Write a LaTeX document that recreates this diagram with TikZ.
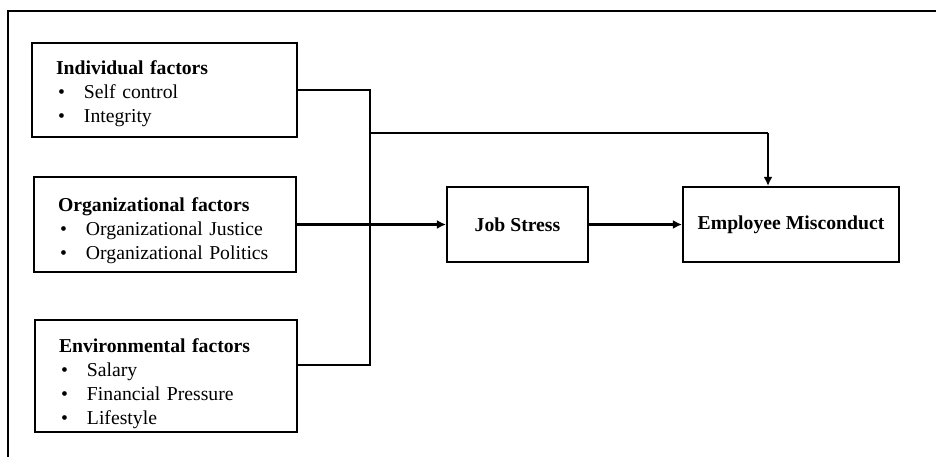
\documentclass[tikz,border=0pt]{standalone}
\usepackage{fontspec}
\setmainfont{Liberation Serif}
\usetikzlibrary{arrows.meta,positioning,calc}
\newcommand{\itm}[1]{\hspace*{2pt}\makebox[26pt][l]{\textbullet}#1}
\newcommand{\lift}[1]{\rule{0pt}{#1}}
\tikzset{
 box/.style={draw=black,line width=2.2pt,align=left,inner xsep=24pt,inner ysep=0pt,font=\fontsize{19.7}{24}\selectfont},
 factor/.style={box,text width=#1},
 goal/.style={box,align=center,inner xsep=0pt,font=\fontsize{19.7}{24}\selectfont\bfseries},
 arr/.style={-{Latex[length=9pt,width=9pt]},line width=2.6pt},
 wire/.style={line width=2.6pt}
}
\begin{document}
\begin{tikzpicture}[x=1pt,y=-1pt]
\useasboundingbox (0,0) rectangle (936,457);
% outer frame, runs off the page at right and bottom
\draw[line width=2.2pt] (8,457) -- (8,11) -- (936,11);
% factor boxes
\node[factor=217pt,minimum width=265pt,minimum height=94pt] (ind) at (164.5,90) {\lift{21pt}\textbf{Individual factors}\\\itm{Self control}\\\itm{Integrity}};
\node[factor=214pt,minimum width=262pt,minimum height=95pt] (org) at (165,224.5) {\lift{26pt}\textbf{Organizational factors}\\\itm{Organizational Justice}\\\itm{Organizational Politics}};
\node[factor=214pt,minimum width=262pt,minimum height=112pt] (env) at (166,376) {\lift{30pt}\textbf{Environmental factors}\\\itm{Salary}\\\itm{Financial Pressure}\\\itm{Lifestyle}};
% outcome boxes
\node[goal,minimum width=141pt,minimum height=75pt] (js) at (517.5,224.5) {Job Stress};
\node[goal,minimum width=216pt,minimum height=75pt] (em) at (791,224.5) {Employee Misconduct};
% bus and connectors
\coordinate (bustop) at (370,90);
\coordinate (busbot) at (370,365);
\coordinate (split) at (370,133);
\coordinate (turn) at (768,133);
\draw[wire] (ind.east) -- (bustop) -- (busbot) -- (busbot -| env.east);
\draw[wire] (split) -- (turn);
\draw[arr] (turn) -- (turn |- em.north);
\draw[arr] (org.east) -- (js.west);
\draw[arr] (js.east) -- (em.west);
\end{tikzpicture}
\end{document}
